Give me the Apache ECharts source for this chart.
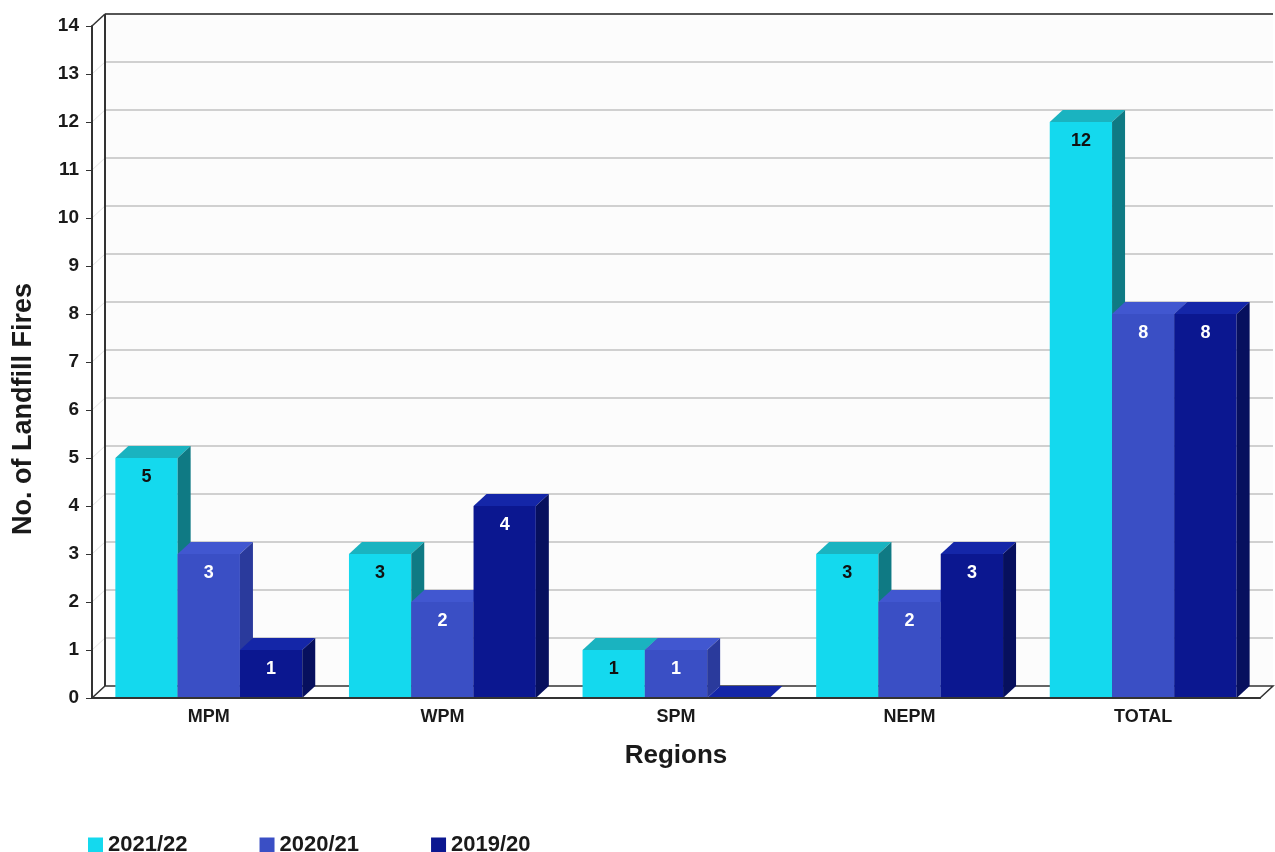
<!DOCTYPE html>
<html>
<head>
<meta charset="utf-8">
<script src="https://cdn.jsdelivr.net/npm/echarts@6.0.0/dist/echarts.min.js"></script>
<style>
  html, body { margin: 0; padding: 0; background: #fff; }
  #chart { width: 1275px; height: 852px; }
</style>
</head>
<body>
<div id="chart"></div>
<script>
var regions = ['MPM', 'WPM', 'SPM', 'NEPM', 'TOTAL'];
var seriesNames = ['2021/22', '2020/21', '2019/20'];
var fires2122 = [5, 3, 1, 3, 12];
var fires2021 = [3, 2, 1, 2, 8];
var fires1920 = [1, 4, 0, 3, 8];
var yTicks = [0, 1, 2, 3, 4, 5, 6, 7, 8, 9, 10, 11, 12, 13, 14];

var FONT = '"Liberation Sans", Arial, sans-serif';
var TXT = '#1a1a1a';
var DX = 13, DY = 12;   // fake 3d depth in px

// front / top / side colours for each series
var palette = [
    { front: '#14d9ee', top: '#1ab3c0', side: '#0f7a84', text: '#111' },
    { front: '#3a4fc5', top: '#4157d0', side: '#2a3a9c', text: '#fff' },
    { front: '#0b1790', top: '#1426a8', side: '#07105e', text: '#fff' }
];

var chart = echarts.init(document.getElementById('chart'));

function renderFrame (params, api) {
    var cs = params.coordSys;
    var x0 = cs.x, x1 = cs.x + cs.width;
    var yb = cs.y + cs.height, yt = cs.y;
    var kids = [];
    // back wall
    kids.push({ type: 'rect', shape: { x: x0 + DX, y: yt - DY, width: cs.width, height: cs.height },
        style: { fill: '#fcfcfc' } });
    // grid lines on the wall + left side diagonals
    for (var i = 1; i < yTicks.length - 1; i++) {
        var y = api.coord([0, yTicks[i]])[1];
        kids.push({ type: 'line', shape: { x1: x0 + DX, y1: y - DY, x2: x1 + DX, y2: y - DY },
            style: { stroke: '#d0d0d0', lineWidth: 2 } });
        kids.push({ type: 'line', shape: { x1: x0, y1: y, x2: x0 + DX, y2: y - DY },
            style: { stroke: '#e4e4e4', lineWidth: 1 } });
    }
    // wall edges
    kids.push({ type: 'line', shape: { x1: x0 + DX, y1: yt - DY, x2: x1 + DX, y2: yt - DY },
        style: { stroke: '#555', lineWidth: 2 } });
    kids.push({ type: 'line', shape: { x1: x0 + DX, y1: yt - DY, x2: x0 + DX, y2: yb - DY },
        style: { stroke: '#333', lineWidth: 2 } });
    kids.push({ type: 'line', shape: { x1: x0, y1: yt, x2: x0 + DX, y2: yt - DY },
        style: { stroke: '#333', lineWidth: 1.5 } });
    // floor
    kids.push({ type: 'polygon', shape: { points: [[x0, yb], [x1, yb], [x1 + DX, yb - DY], [x0 + DX, yb - DY]] },
        style: { fill: '#fff', stroke: '#333', lineWidth: 1.5 } });
    return { type: 'group', children: kids };
}

function makeBarRenderer (idx) {
    var c = palette[idx];
    return function (params, api) {
        var cat = api.value(0), val = api.value(1);
        var base = api.coord([cat, 0]);
        var top = api.coord([cat, val]);
        var band = api.size([1, 0])[0];
        var barW = band * 0.8 / 3;
        var bx0 = base[0] - band * 0.4 + idx * barW;
        var bx1 = bx0 + barW;
        var ty = top[1], by = base[1];
        var kids = [
            { type: 'rect', shape: { x: bx0, y: ty, width: barW, height: by - ty }, style: { fill: c.front } },
            { type: 'polygon', shape: { points: [[bx0, ty], [bx1, ty], [bx1 + DX, ty - DY], [bx0 + DX, ty - DY]] },
                style: { fill: c.top } },
            { type: 'polygon', shape: { points: [[bx1, ty], [bx1 + DX, ty - DY], [bx1 + DX, by - DY], [bx1, by]] },
                style: { fill: c.side } }
        ];
        if (val > 0) {
            kids.push({ type: 'text', x: bx0 + barW / 2, y: ty + 19,
                style: { text: String(val), fill: c.text, font: 'bold 18px ' + FONT,
                    align: 'center', verticalAlign: 'middle' } });
        }
        return { type: 'group', children: kids };
    };
}

var allValues = [fires2122, fires2021, fires1920];
var series = [{
    type: 'custom',
    name: 'frame',
    z: 1,
    silent: true,
    renderItem: renderFrame,
    data: [[0, 0]]
}];
allValues.forEach(function (vals, i) {
    series.push({
        type: 'custom',
        name: seriesNames[i],
        z: 2 + i,
        itemStyle: { color: palette[i].front },
        renderItem: makeBarRenderer(i),
        encode: { x: 0, y: 1 },
        data: vals.map(function (v, k) { return [k, v]; })
    });
});

var option = {
    animation: false,
    backgroundColor: '#fff',
    textStyle: { fontFamily: FONT },
    grid: { left: 92, right: 15, top: 26, bottom: 154 },
    legend: {
        data: seriesNames,
        left: 83,
        top: 829,
        icon: 'rect',
        itemWidth: 15,
        itemHeight: 15,
        itemGap: 72,
        textStyle: { fontFamily: FONT, fontWeight: 'bold', fontSize: 22, color: TXT }
    },
    xAxis: {
        type: 'category',
        data: regions,
        z: 10,
        name: 'Regions',
        nameLocation: 'middle',
        nameGap: 45,
        nameTextStyle: { fontFamily: FONT, fontWeight: 'bold', fontSize: 26, color: TXT },
        axisLine: { lineStyle: { color: '#333', width: 2 } },
        axisTick: { length: 7, lineStyle: { color: '#333' } },
        axisLabel: { fontFamily: FONT, fontWeight: 'bold', fontSize: 18, color: TXT, margin: 10 },
        splitLine: { show: false }
    },
    yAxis: {
        type: 'value',
        min: 0,
        max: 14,
        interval: 1,
        z: 10,
        name: 'No. of Landfill Fires',
        nameLocation: 'middle',
        nameGap: 55,
        nameTextStyle: { fontFamily: FONT, fontWeight: 'bold', fontSize: 27, color: TXT,
            padding: [0, 94, 0, 0] },
        axisLine: { show: true, lineStyle: { color: '#333', width: 2 } },
        axisTick: { show: true, length: 6, lineStyle: { color: '#333' } },
        axisLabel: { fontFamily: FONT, fontWeight: 'bold', fontSize: 19, color: TXT, margin: 13 },
        splitLine: { show: false }
    },
    series: series
};

chart.setOption(option);
</script>
</body>
</html>
